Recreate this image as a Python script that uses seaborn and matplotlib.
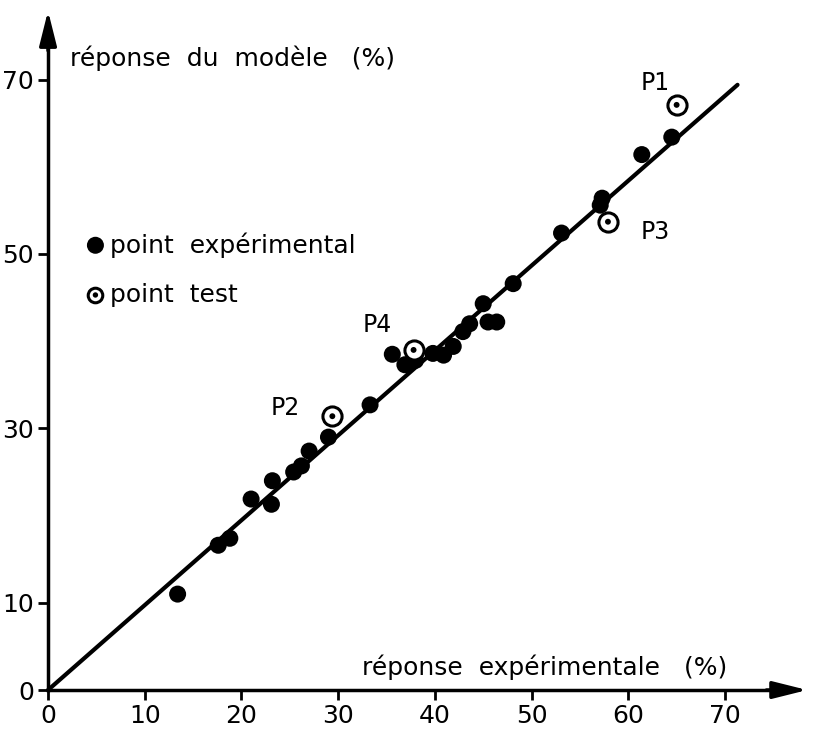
import matplotlib
matplotlib.use('Agg')
import matplotlib.pyplot as plt
import seaborn as sns
import pandas as pd

# experimental points (x = experimental response, y = model response), in %
exp_x = [13.4, 17.6, 18.8, 21.0, 23.1, 23.2, 25.4, 26.2, 27.0, 29.0,
         33.3, 35.6, 36.9, 38.0, 39.8, 40.9, 41.9, 42.9, 43.6, 45.0,
         45.5, 46.4, 48.1, 53.1, 57.1, 57.3, 61.4, 64.5]
exp_y = [11.0, 16.6, 17.4, 21.9, 21.3, 24.0, 25.0, 25.7, 27.4, 29.0,
         32.7, 38.5, 37.3, 37.8, 38.6, 38.4, 39.4, 41.1, 42.0, 44.3,
         42.2, 42.2, 46.6, 52.4, 55.6, 56.4, 61.4, 63.4]

# test points
test_names = ['P1', 'P2', 'P3', 'P4']
test_x = [65.0, 29.4, 57.9, 37.8]
test_y = [67.1, 31.4, 53.7, 39.0]

# fitted line
line_x = [0, 71.3]
line_y = [0, 69.4]

x_ticks = [0, 10, 20, 30, 40, 50, 60, 70]
y_ticks = [0, 10, 30, 50, 70]

df_exp = pd.DataFrame({'x': exp_x, 'y': exp_y})
df_test = pd.DataFrame({'x': test_x, 'y': test_y, 'name': test_names})
df_line = pd.DataFrame({'x': line_x, 'y': line_y})

sns.set_style('white')
plt.rcParams['font.family'] = ['DejaVu Sans']
plt.rcParams['text.color'] = 'black'

fig = plt.figure(figsize=(8.13, 7.39), dpi=100)
ax = fig.add_axes([40.3 / 813, 42 / 739, 771.7 / 813, 695.9 / 739])

sns.lineplot(data=df_line, x='x', y='y', color='black', linewidth=3, ax=ax)
sns.scatterplot(data=df_exp, x='x', y='y', color='black', s=150,
                edgecolor='none', ax=ax, zorder=3)
sns.scatterplot(data=df_test, x='x', y='y', facecolor='white',
                edgecolor='black', linewidth=2.2, s=190, ax=ax, zorder=4)
sns.scatterplot(data=df_test, x='x', y='y', color='black', s=18,
                edgecolor='none', ax=ax, zorder=5)

# test point labels
offsets = {'P1': (-2.2, 2.5), 'P2': (-4.9, 0.9), 'P3': (4.9, -1.2), 'P4': (-3.8, 2.9)}
for n, xx, yy in zip(test_names, test_x, test_y):
    dx, dy = offsets[n]
    ax.text(xx + dx, yy + dy, n, fontsize=17, ha='center', va='center',
            color='black')

ax.set_xlim(-0.8, 79)
ax.set_ylim(-0.8, 79)

# axes through the origin with arrows
for s in ['top', 'right']:
    ax.spines[s].set_visible(False)
for s in ['left', 'bottom']:
    ax.spines[s].set_position(('data', 0))
    ax.spines[s].set_bounds(0, 76)
    ax.spines[s].set_linewidth(2.5)
    ax.spines[s].set_color('black')
ax.annotate('', xy=(78.8, 0), xytext=(74, 0),
            arrowprops=dict(arrowstyle='-|>,head_length=1.4,head_width=0.35',
                            color='black', lw=2.5, mutation_scale=15))
ax.annotate('', xy=(0, 78.2), xytext=(0, 73),
            arrowprops=dict(arrowstyle='-|>,head_length=1.4,head_width=0.35',
                            color='black', lw=2.5, mutation_scale=15))

ax.set_xticks(x_ticks)
ax.set_yticks(y_ticks)
ax.set_xticklabels([str(t) for t in x_ticks])
ax.set_yticklabels([str(t) for t in y_ticks])
ax.tick_params(axis='both', direction='out', length=7, width=2, labelsize=18,
               colors='black', pad=3, bottom=True, left=True)
for lab in ax.get_xticklabels() + ax.get_yticklabels():
    lab.set_family(['Liberation Sans Narrow', 'DejaVu Sans'])
ax.set_xlabel('')
ax.set_ylabel('')

ax.text(2.3, 72.5, 'réponse  du  modèle   (%)', fontsize=18, ha='left',
        va='center', color='black')
ax.text(32.5, 2.6, 'réponse  expérimentale   (%)', fontsize=18, ha='left',
        va='center', color='black')

# legend drawn as in the original
ax.scatter([4.9], [51.0], s=150, color='black', edgecolor='none')
ax.text(6.4, 51.0, 'point  expérimental', fontsize=18, ha='left', va='center',
        color='black')
ax.scatter([4.9], [45.3], s=110, facecolor='white', edgecolor='black', linewidth=2.2)
ax.scatter([4.9], [45.3], s=15, color='black', edgecolor='none')
ax.text(6.4, 45.3, 'point  test', fontsize=18, ha='left', va='center',
        color='black')

fig.savefig('out.png', dpi=100)
